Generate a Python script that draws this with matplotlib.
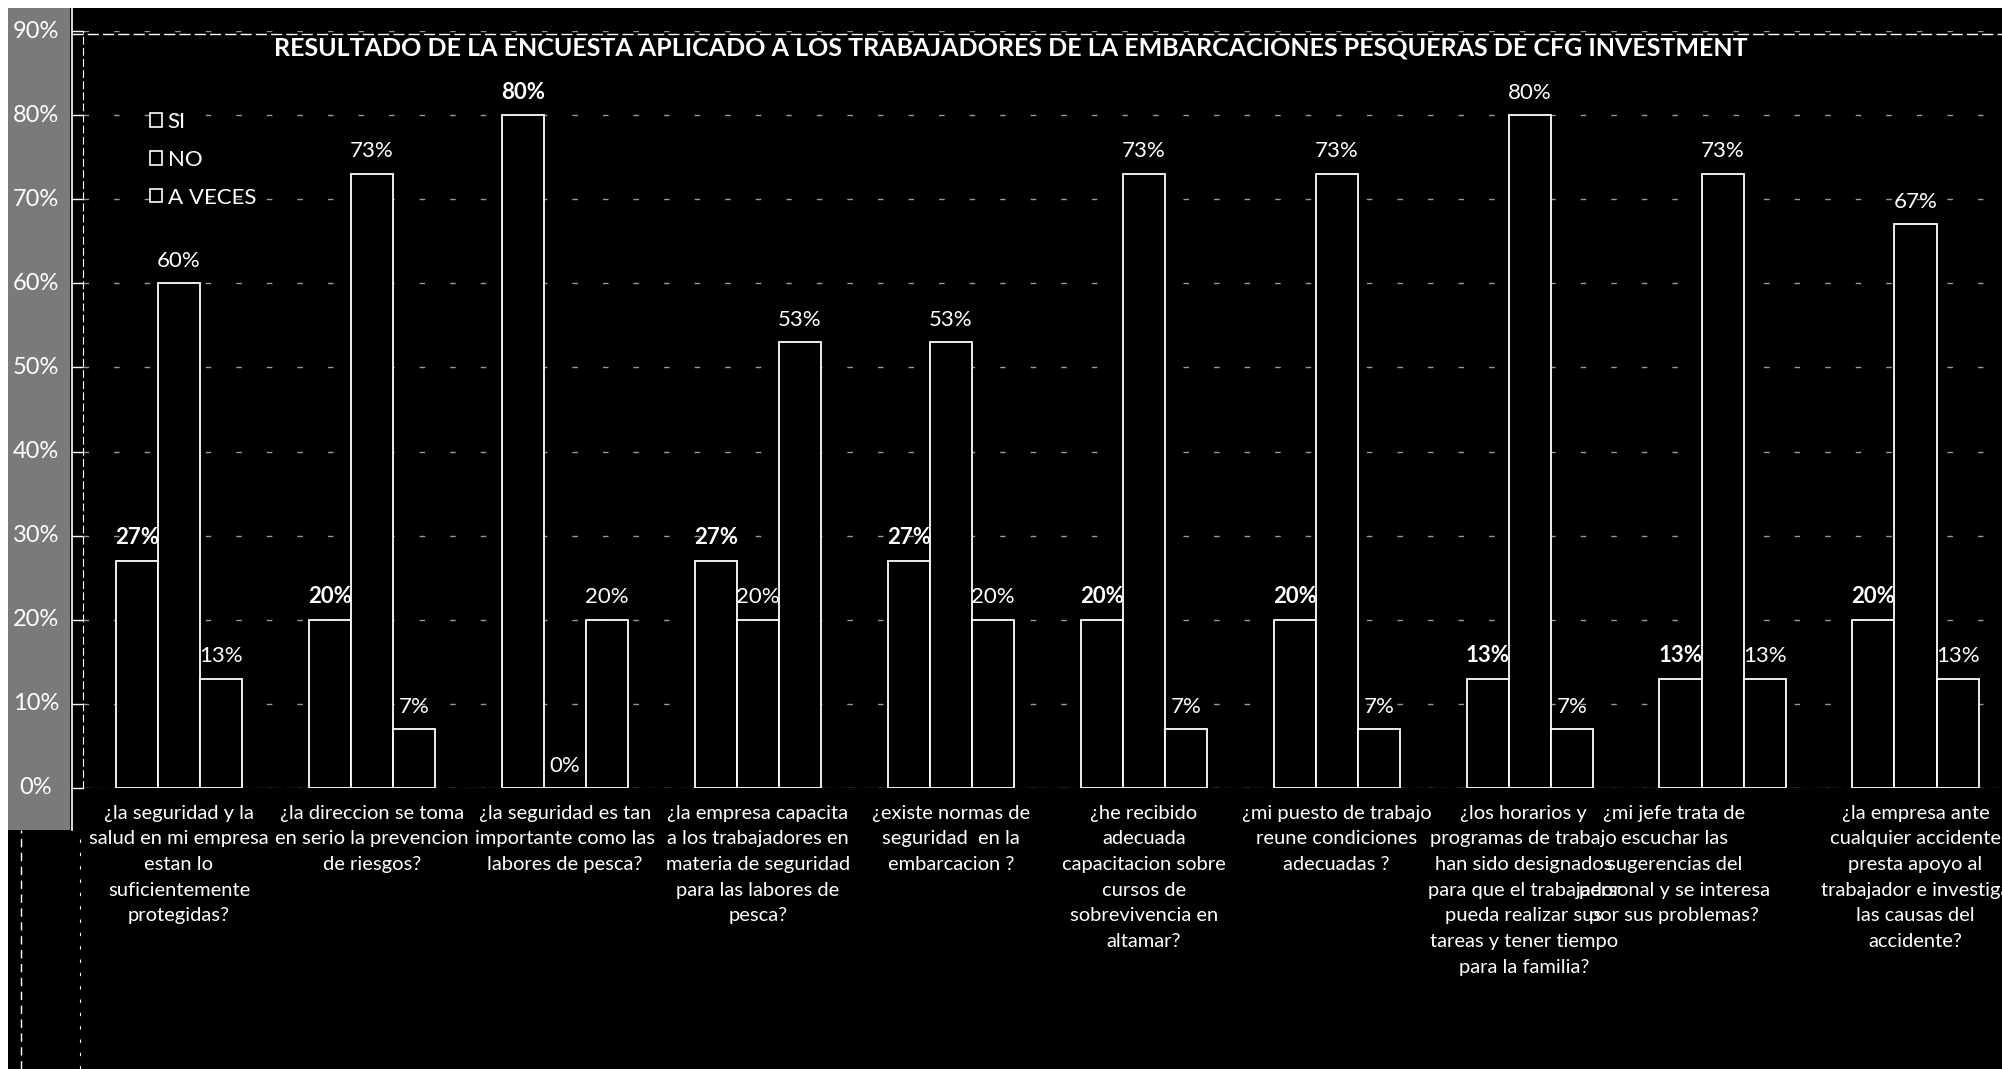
import matplotlib
matplotlib.use("Agg")
import matplotlib.pyplot as plt
import numpy as np
from matplotlib.patches import Patch, Rectangle
from matplotlib.lines import Line2D

plt.rcParams["font.family"] = ["Lato", "DejaVu Sans"]

# --- data (percent of workers) ---
preguntas = [
    "¿la seguridad y la\nsalud en mi empresa\nestan lo\nsuficientemente\nprotegidas?",
    "¿la direccion se toma\nen serio la prevencion\nde riesgos?",
    "¿la seguridad es tan\nimportante como las\nlabores de pesca?",
    "¿la empresa capacita\na los trabajadores en\nmateria de seguridad\npara las labores de\npesca?",
    "¿existe normas de\nseguridad  en la\nembarcacion ?",
    "¿he recibido\nadecuada\ncapacitacion sobre\ncursos de\nsobrevivencia en\naltamar?",
    "¿mi puesto de trabajo\nreune condiciones\nadecuadas ?",
    "¿los horarios y\nprogramas de trabajo\nhan sido designados\npara que el trabajador\npueda realizar sus\ntareas y tener tiempo\npara la familia?",
    "¿mi jefe trata de\nescuchar las\nsugerencias del\npersonal y se interesa\npor sus problemas?",
    "¿la empresa ante\ncualquier accidente\npresta apoyo al\ntrabajador e investiga\nlas causas del\naccidente?",
]
si = [27, 20, 80, 27, 27, 20, 20, 13, 13, 20]
no = [60, 73, 0, 20, 53, 73, 73, 80, 73, 67]
a_veces = [13, 7, 20, 53, 20, 7, 7, 7, 13, 13]
series_names = ["SI", "NO", "A VECES"]
y_ticks = [0, 10, 20, 30, 40, 50, 60, 70, 80, 90]

titulo = ("RESULTADO DE LA ENCUESTA APLICADO A LOS TRABAJADORES DE LA "
          "EMBARCACIONES PESQUERAS DE CFG INVESTMENT")

W, H = 2002, 1069
fig = plt.figure(figsize=(W / 100, H / 100), dpi=100)
fig.patch.set_facecolor("black")
ft = fig.transFigure

# scanned page edge + grey strip holding the tick labels
fig.add_artist(Rectangle((0, 0), 1, 1, transform=ft, facecolor="white",
                         edgecolor="none", zorder=-3))
fig.add_artist(Rectangle((8 / W, 0), 1, 1 - 8 / H, transform=ft,
                         facecolor="black", edgecolor="none", zorder=-2))
fig.add_artist(Rectangle((8 / W, 1 - 830 / H), 62 / W, 822 / H, transform=ft,
                         facecolor="#7a7a7a", edgecolor="none", zorder=-1))
fig.add_artist(Line2D([72 / W, 72 / W], [1 - 830 / H, 1 - 8 / H], transform=ft,
                      color="white", lw=1.2))
fig.add_artist(Line2D([72 / W, 1], [1 - 34 / H, 1 - 34 / H], transform=ft,
                      color="white", lw=1.0, ls=(0, (8, 3))))
fig.add_artist(Line2D([21 / W, 21 / W], [0, 1 - 830 / H], transform=ft,
                      color="white", lw=1.0, ls=(0, (6, 4))))
fig.add_artist(Line2D([80 / W, 80 / W], [0, 1 - 830 / H], transform=ft,
                      color="white", lw=0.8, ls=(0, (3, 9))))

ax = fig.add_axes([82.5 / W, 1 - 788 / H, (2012 - 82.5) / W, (788 - 31) / H])
ax.set_facecolor("black")

x = np.arange(len(preguntas))
bw = 0.218
for k, (vals, name) in enumerate(zip([si, no, a_veces], series_names)):
    pos = x + (k - 1) * bw
    ax.bar(pos, vals, width=bw, facecolor="black", edgecolor="white",
           linewidth=1.3, label=name, zorder=3)
    for px, v in zip(pos, vals):
        ax.annotate(f"{v}%", (px, v), xytext=(0, 9), textcoords="offset points",
                    ha="center", va="bottom", color="white", fontsize=16,
                    fontweight="bold" if k == 0 else "normal", zorder=4)

ax.set_xlim(-0.5, 9.5)
ax.set_ylim(0, 90)
ax.set_yticks(y_ticks)
ax.set_yticklabels([])
ax.set_xticks([])
ax.yaxis.grid(True, color="white", lw=1.0, ls=(0, (4, 18)), alpha=0.6, zorder=0)
ax.tick_params(axis="y", colors="white", length=9, width=1, direction="out")
for s in ["top", "right", "bottom"]:
    ax.spines[s].set_visible(False)
ax.spines["left"].set_color("white")
ax.spines["left"].set_linestyle((0, (6, 4)))
ax.axhline(0, color="white", lw=0.8, ls=(0, (10, 3)), zorder=2)

# y tick labels inside the grey strip
for t in y_ticks:
    fig.text(36 / W, ax.transData.transform((0, t))[1] / H, f"{t}%",
             ha="center", va="center", color="white", fontsize=17)

# category labels under each group
label_shift = [0, 0, 0, 0, 0, 0, 0, -0.03, -0.25, 0]
for i, q in enumerate(preguntas):
    ax.text(i + label_shift[i], -0.022, q, transform=ax.get_xaxis_transform(),
            ha="center", va="top", color="white", fontsize=14.5,
            linespacing=1.62, multialignment="center")

fig.text(1011 / W, 1 - 48 / H, titulo, ha="center", va="center",
         color="white", fontsize=18, fontweight="bold")

handles = [Patch(facecolor="black", edgecolor="white", lw=1.2, label=n)
           for n in series_names]
fig.legend(handles=handles, loc="upper left", bbox_to_anchor=(130 / W, 1 - 92 / H),
           frameon=False, labelcolor="white", fontsize=16, handlelength=0.55,
           handleheight=0.55, handletextpad=0.25, labelspacing=0.8)

fig.savefig("out.png", dpi=100, facecolor="black")
